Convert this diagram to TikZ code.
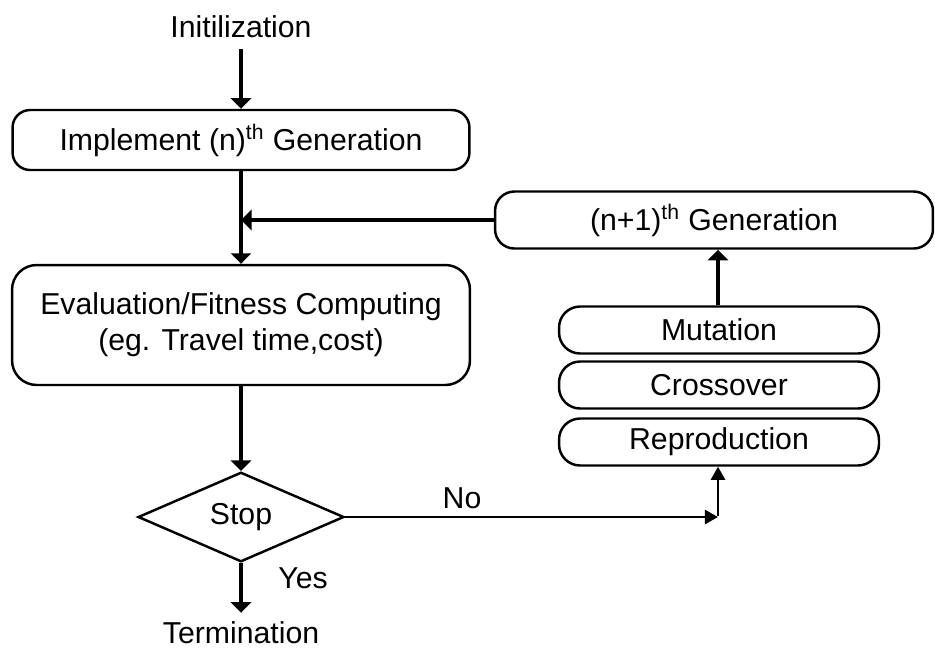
\documentclass[tikz,border=0pt]{standalone}
\usepackage{fontspec}
\setmainfont{Liberation Sans}
\usetikzlibrary{arrows.meta,shapes.geometric}
\begin{document}
\begin{tikzpicture}[x=0.02cm,y=-0.02cm,
  font=\fontsize{17.2}{20.6}\selectfont,
  box/.style={draw, line width=1.4pt, align=center, inner sep=0pt},
  label text/.style={inner sep=6pt},
  main/.style={line width=2.5pt, -{Triangle[width=11.5pt,length=6pt]}},
  thinarrow/.style={line width=1.6pt, -{Triangle[width=8pt,length=7.5pt]}},
  opbox/.style={box, minimum width=6.4cm, minimum height=0.94cm, rounded corners=12pt}]
  \useasboundingbox (0,0) rectangle (935,650);

  % left column: main loop
  \node[label text] (init) at (241,27) {Initilization};
  \node[box, minimum width=9.14cm, minimum height=1.2cm, rounded corners=10pt]
    (impl) at (241,140) {Implement (n)\textsuperscript{th} Generation};
  \node[box, minimum width=9.16cm, minimum height=2.4cm, rounded corners=14pt]
    (eval) at (241,325) {Evaluation/Fitness Computing\\(eg. Travel time,cost)};
  \node[draw, diamond, line width=1.4pt, inner sep=0pt,
        minimum width=4.12cm, minimum height=1.58cm] (stop) at (241,517) {Stop};
  \node[label text] (term) at (241,633) {Termination};

  % right column: genetic operators
  \node[box, minimum width=8.76cm, minimum height=1.14cm, rounded corners=11pt]
    (next) at (714,220) {(n+1)\textsuperscript{th} Generation};
  \node[opbox] (mut) at (719,330) {Mutation};
  \node[opbox] (cross) at (719,385) {Crossover};
  \node[opbox] (rep) at (719,442) {Reproduction};

  \coordinate (corner) at (718,517);

  % connectors
  \draw[main] (init.south) -- (impl.north);
  \draw[main] (impl.south) -- (eval.north);
  \draw[main] (next.west) -- (impl.south |- next.west);
  \draw[main] (eval.south) -- (stop.north);
  \draw[main] (stop.south) -- ([yshift=-1pt]term.north);
  \draw[main] (mut.north -| corner) -- (corner |- next.south);
  \draw[thinarrow] (stop.east) -- (corner);
  \draw[thinarrow] ([yshift=0.8pt]corner) -- (corner |- rep.south);

  \node (no) at (462,498) {No};
  \node (yes) at (303,578) {Yes};
\end{tikzpicture}
\end{document}
